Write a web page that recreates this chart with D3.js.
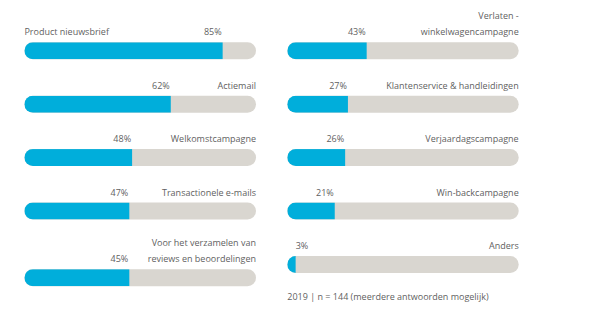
<!DOCTYPE html>
<html>
<head>
<meta charset="utf-8">
<script src="https://cdn.jsdelivr.net/npm/d3@7"></script>
<style>
  body { margin: 0; background: #fff; }
  text { font-family: "Open Sans", sans-serif; font-size: 9px; fill: #5f5f5f; }
</style>
</head>
<body>
<div id="chart"></div>
<script>
// left column
var leftLabels = [
  ["Product nieuwsbrief"],
  ["Actiemail"],
  ["Welkomstcampagne"],
  ["Transactionele e-mails"],
  ["Voor het verzamelen van", "reviews en beoordelingen"]
];
var leftValues = [85, 62, 48, 47, 45];
// bar lengths as drawn in the picture (%)
var leftBars = [85.6, 63.2, 46.5, 45.3, 45.3];

// right column
var rightLabels = [
  ["Verlaten -", "winkelwagencampagne"],
  ["Klantenservice & handleidingen"],
  ["Verjaardagscampagne"],
  ["Win-backcampagne"],
  ["Anders"]
];
var rightValues = [43, 27, 26, 21, 3];
var rightBars = [34.3, 26.2, 25, 20.5, 3.6];

var footnote = "2019 | n = 144 (meerdere antwoorden mogelijk)";

var svgWidth = 605;
var svgHeight = 335;
var barH = 17;
var rowStep = 53.4;

var svg = d3.select("#chart")
  .append("svg")
  .attr("width", svgWidth)
  .attr("height", svgHeight);

function drawColumn(labels, values, bars, x0, x1, top) {
  var x = d3.scaleLinear().domain([0, 100]).range([x0, x1]);
  var g = svg.append("g");
  var y = top;
  var clipId = "c" + Math.round(x0);

  labels.forEach(function(lab, i) {
    // extra space only when a two-line label sits below the first row
    if (i > 0 && lab.length > 1) y += (lab.length - 1) * 13.3;
    var row = g.append("g").attr("transform", "translate(0," + y + ")");
    var id = clipId + "_" + i;
    row.append("clipPath").attr("id", id)
      .append("rect")
      .attr("x", x(0)).attr("y", 0)
      .attr("width", x(100) - x(0)).attr("height", barH)
      .attr("rx", barH / 2);

    row.append("rect")
      .attr("x", x(0)).attr("y", 0)
      .attr("width", x(100) - x(0)).attr("height", barH)
      .attr("rx", barH / 2)
      .attr("fill", "#d9d6d0");

    row.append("rect")
      .attr("clip-path", "url(#" + id + ")")
      .attr("x", x(0)).attr("y", 0)
      .attr("width", x(bars[i]) - x(0)).attr("height", barH)
      .attr("fill", "#00aedb");

    // value label
    var vx = Math.max(x(bars[i]) - 1, x(0) + 21);
    row.append("text")
      .attr("x", vx)
      .attr("y", -7)
      .attr("text-anchor", "end")
      .text(values[i] + "%");

    // category label (lines stacked upward)
    lab.forEach(function(line, j) {
      var t = row.append("text")
        .attr("x", x(100))
        .attr("y", -7 - (lab.length - 1 - j) * 16.5)
        .attr("text-anchor", "end")
        .text(line);
      // if it would run into the value label, put it at the bar start
      if (j == lab.length - 1 && x(100) - t.node().getComputedTextLength() < vx + 4) {
        t.attr("x", x(0)).attr("text-anchor", "start");
      }
    });

    y += rowStep;
  });
}

drawColumn(leftLabels, leftValues, leftBars, 24.4, 256, 42.3);
drawColumn(rightLabels, rightValues, rightBars, 287.3, 518.7, 42.3);

svg.append("text")
  .attr("x", 287.3)
  .attr("y", 299.8)
  .text(footnote);
</script>
</body>
</html>
